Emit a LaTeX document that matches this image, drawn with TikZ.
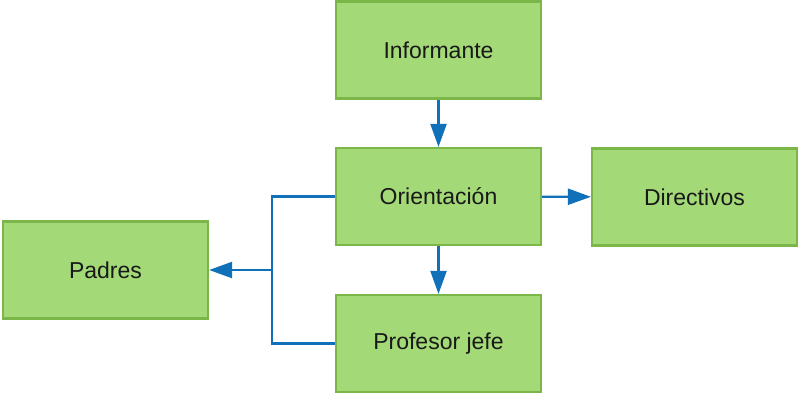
\documentclass[tikz,border=0pt]{standalone}
\usepackage{fontspec}
\setmainfont{Liberation Sans}
\usetikzlibrary{arrows.meta}
\definecolor{boxfill}{HTML}{A3D977}
\definecolor{boxline}{HTML}{7AB648}
\definecolor{linkblue}{HTML}{1071B9}
\begin{document}
\begin{tikzpicture}[x=1pt,y=-1pt,
  box/.style={draw=boxline, fill=boxfill, line width=2.2pt, minimum width=205pt, minimum height=97pt, inner sep=0pt, font=\fontsize{23}{27}\selectfont, text=black!90},
  link/.style={draw=linkblue, line width=2.2pt},
  arr/.style={link, -{Triangle[length=23pt,width=16pt]}}]
\useasboundingbox (0,0) rectangle (798,394);
\node[box] (inf) at (438.5,50) {Informante};
\node[box] (ori) at (438.5,196.5) {Orientación};
\node[box] (dir) at (694.5,197) {Directivos};
\node[box] (pad) at (105.5,270) {Padres};
\node[box] (pro) at (438.5,343.5) {Profesor jefe};
\coordinate (j) at (272,270);
\draw[arr] (inf) -- (ori);
\draw[arr] (ori) -- (pro);
\draw[arr] (ori) -- (dir);
\draw[link] (ori.west) -| (j) |- (pro.west);
\draw[arr] (j) -- (pad);
\end{tikzpicture}
\end{document}
